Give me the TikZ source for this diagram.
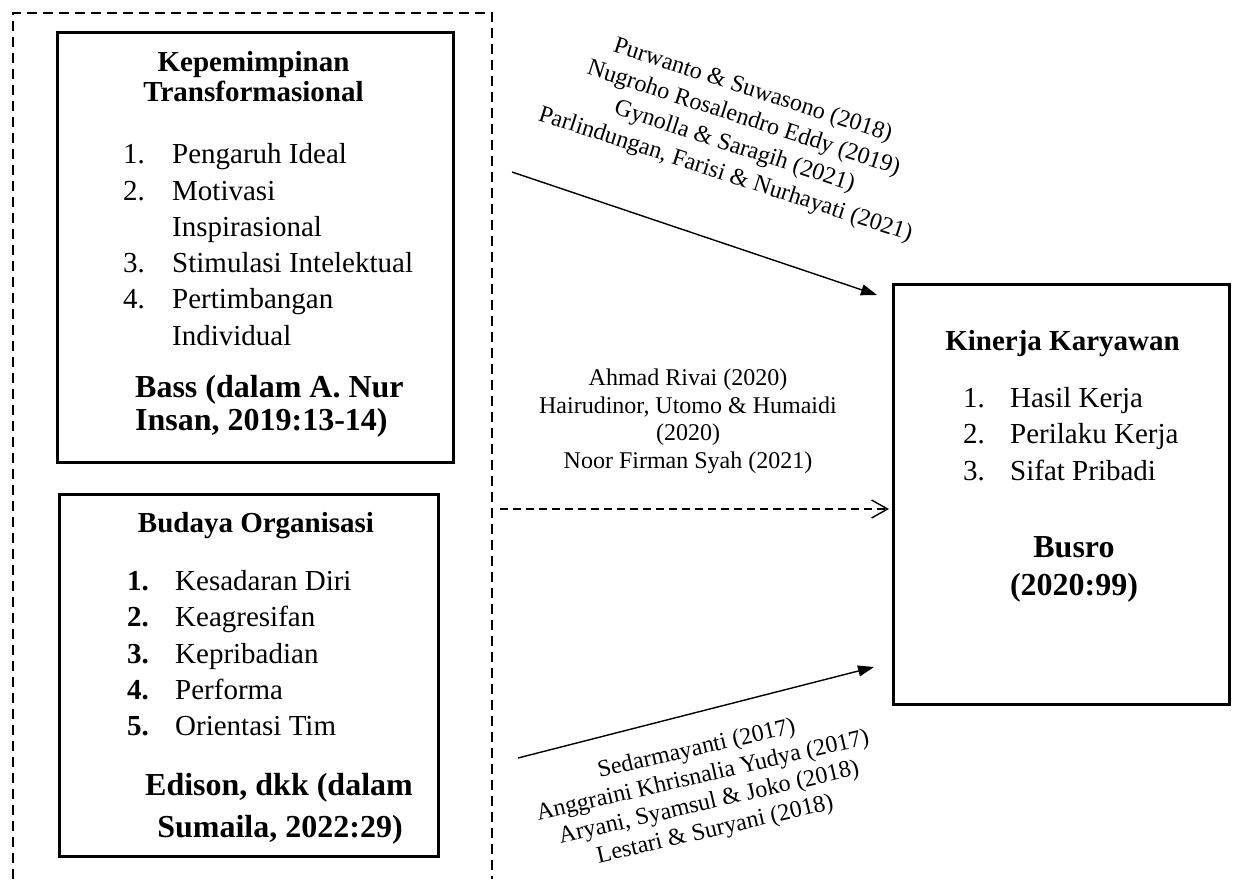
\documentclass[tikz,border=0pt]{standalone}
\usepackage{fontspec}
\setmainfont{Liberation Serif}
\usetikzlibrary{arrows.meta}
\begin{document}
\begin{tikzpicture}[x=1pt,y=-1pt,
  boxframe/.style={draw, line width=2.6pt, inner sep=0pt, anchor=north west},
  body/.style={inner sep=0pt, font=\fontsize{29}{36}\selectfont},
  ttl/.style={inner sep=0pt, anchor=base, font=\bfseries\fontsize{29}{32}\selectfont},
  refb/.style={inner sep=0pt, anchor=base, font=\bfseries\fontsize{32}{36}\selectfont},
  lbl/.style={inner sep=0pt, font=\fontsize{24}{27.6}\selectfont, align=center},
  conn/.style={line width=1.4pt},
  solidtip/.style={conn, -{Triangle[length=16pt,width=11pt]}},
  opentip/.style={conn, dash pattern=on 8pt off 5pt, -{Straight Barb[length=16pt,width=18pt,line width=1.4pt]}}
]
\path[use as bounding box] (0,0) rectangle (1235,879);

% dashed group frame
\draw[line width=1.4pt, dash pattern=on 10pt off 6pt] (13,879) -- (13,13) -- (492,13) -- (492,879);

% boxes
\node[boxframe, minimum width=396pt, minimum height=430pt] (b1) at (56,31) {};
\node[boxframe, minimum width=379pt, minimum height=362pt] (b2) at (58,493) {};
\node[boxframe, minimum width=336pt, minimum height=420pt] (b3) at (892,283) {};

% box 1 content
\node[ttl] (t1a) at (253.5,71) {Kepemimpinan};
\node[ttl] (t1b) at (253.5,101) {Transformasional};
\node[body, anchor=base west] (n11) at (123,163) {1.};
\node[body, anchor=base west] (i11) at (172,163) {Pengaruh Ideal};
\node[body, anchor=base west] (n12) at (123,200) {2.};
\node[body, anchor=base west] (i12) at (172,200) {Motivasi};
\node[body, anchor=base west] (i12b) at (172,236) {Inspirasional};
\node[body, anchor=base west] (n13) at (123,272) {3.};
\node[body, anchor=base west] (i13) at (172,272) {Stimulasi Intelektual};
\node[body, anchor=base west] (n14) at (123,308) {4.};
\node[body, anchor=base west] (i14) at (172,308) {Pertimbangan};
\node[body, anchor=base west] (i14b) at (172,345) {Individual};
\node[refb, anchor=base west] (r1a) at (135,397) {Bass (dalam A. Nur};
\node[refb, anchor=base west] (r1b) at (135,430) {Insan, 2019:13-14)};

% box 2 content
\node[ttl] (t2) at (256,532) {Budaya Organisasi};
\node[body, anchor=base west, font=\bfseries\fontsize{29}{36}\selectfont] (n21) at (127,590) {1.};
\node[body, anchor=base west] (i21) at (175,590) {Kesadaran Diri};
\node[body, anchor=base west, font=\bfseries\fontsize{29}{36}\selectfont] (n22) at (127,626) {2.};
\node[body, anchor=base west] (i22) at (175,626) {Keagresifan};
\node[body, anchor=base west, font=\bfseries\fontsize{29}{36}\selectfont] (n23) at (127,663) {3.};
\node[body, anchor=base west] (i23) at (175,663) {Kepribadian};
\node[body, anchor=base west, font=\bfseries\fontsize{29}{36}\selectfont] (n24) at (127,699) {4.};
\node[body, anchor=base west] (i24) at (175,699) {Performa};
\node[body, anchor=base west, font=\bfseries\fontsize{29}{36}\selectfont] (n25) at (127,735) {5.};
\node[body, anchor=base west] (i25) at (175,735) {Orientasi Tim};
\node[refb] (r2a) at (279,795) {Edison, dkk (dalam};
\node[refb] (r2b) at (280,837) {Sumaila, 2022:29)};

% box 3 content
\node[ttl] (t3) at (1062.5,350) {Kinerja Karyawan};
\node[body, anchor=base west] (n31) at (963,407) {1.};
\node[body, anchor=base west] (i31) at (1010,407) {Hasil Kerja};
\node[body, anchor=base west] (n32) at (963,443) {2.};
\node[body, anchor=base west] (i32) at (1010,443) {Perilaku Kerja};
\node[body, anchor=base west] (n33) at (963,480) {3.};
\node[body, anchor=base west] (i33) at (1010,480) {Sifat Pribadi};
\node[refb] (r3a) at (1074,557) {Busro};
\node[refb] (r3b) at (1074,595) {(2020:99)};

% connector labels
\node[lbl, anchor=base] (m1) at (688,385) {Ahmad Rivai (2020)};
\node[lbl, anchor=base] (m2) at (688,413) {Hairudinor, Utomo \& Humaidi};
\node[lbl, anchor=base] (m3) at (688,440) {(2020)};
\node[lbl, anchor=base] (m4) at (688,468) {Noor Firman Syah (2021)};

\node[lbl, rotate=-18, font=\fontsize{24}{29.5}\selectfont] (toplbl) at (739,133)
  {Purwanto \& Suwasono (2018)\\Nugroho Rosalendro Eddy (2019)\\Gynolla \& Saragih (2021)\\Parlindungan, Farisi \& Nurhayati (2021)};
\node[lbl, rotate=13] (botlbl) at (706,790)
  {Sedarmayanti (2017)\\Anggraini Khrisnalia Yudya (2017)\\Aryani, Syamsul \& Joko (2018)\\Lestari \& Suryani (2018)};

% connectors
\coordinate (a1s) at (512,172);
\coordinate (a1e) at (877,295);
\coordinate (a2s) at (500,509);
\coordinate (a2e) at (889,509);
\coordinate (a3s) at (518,758);
\coordinate (a3e) at (874,667);
\draw[solidtip] (a1s) -- (a1e);
\draw[opentip] (a2s) -- (a2e);
\draw[solidtip] (a3s) -- (a3e);
\end{tikzpicture}
\end{document}
